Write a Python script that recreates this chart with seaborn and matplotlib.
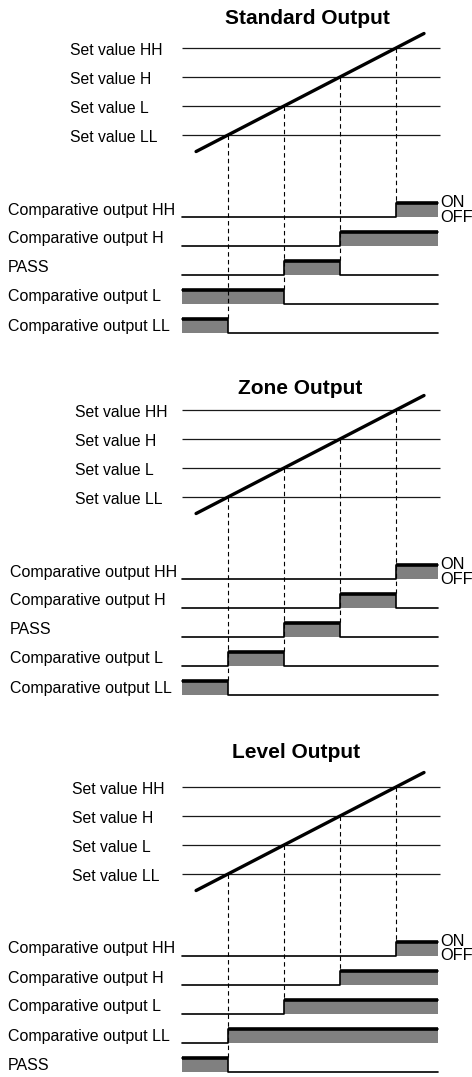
import pandas as pd
import matplotlib.pyplot as plt
import seaborn as sns

sns.set_theme(style="white")
plt.rcParams['font.family'] = ['Liberation Sans', 'DejaVu Sans']

# --- data ---
set_labels = ['Set value HH', 'Set value H', 'Set value L', 'Set value LL']
set_values = [4, 3, 2, 1]
ramp = [0.43, 4.5]      # measured value rising through the set values
span = [0.18, 4.75]     # time window drawn for the outputs

std_title = 'Standard Output'
std_rows = ['Comparative output HH', 'Comparative output H', 'PASS',
            'Comparative output L', 'Comparative output LL']
std_states = [[0, 0, 0, 0, 1],
              [0, 0, 0, 1, 1],
              [0, 0, 1, 0, 0],
              [1, 1, 0, 0, 0],
              [1, 0, 0, 0, 0]]

zone_title = 'Zone Output'
zone_rows = ['Comparative output HH', 'Comparative output H', 'PASS',
             'Comparative output L', 'Comparative output LL']
zone_states = [[0, 0, 0, 0, 1],
               [0, 0, 0, 1, 0],
               [0, 0, 1, 0, 0],
               [0, 1, 0, 0, 0],
               [1, 0, 0, 0, 0]]

level_title = 'Level Output'
level_rows = ['Comparative output HH', 'Comparative output H',
              'Comparative output L', 'Comparative output LL', 'PASS']
level_states = [[0, 0, 0, 0, 1],
                [0, 0, 0, 1, 1],
                [0, 0, 1, 1, 1],
                [0, 1, 1, 1, 1],
                [1, 0, 0, 0, 0]]

# --- layout (pixels) ---
W, H = 472, 1077
X0 = 172        # pixel x of value 0
UX = 56         # pixels per unit along x
UY = 29         # pixels per unit along y
ROW_GAP = 82    # from set value LL to first output row
ON_H = 14       # height of the ON level

panels = [
    dict(title=std_title, rows=std_rows, states=std_states, top=0, bottom=345,
         p_ll=135, title_xy=(307, 18), set_x=70, row_x=8),
    dict(title=zone_title, rows=zone_rows, states=zone_states, top=345, bottom=720,
         p_ll=497, title_xy=(300, 388), set_x=75, row_x=10),
    dict(title=level_title, rows=level_rows, states=level_states, top=720, bottom=H,
         p_ll=874, title_xy=(296, 752), set_x=72, row_x=8),
]

fig = plt.figure(figsize=(W / 100, H / 100), dpi=100)

for p in panels:
    ax = fig.add_axes([0, 1 - p['bottom'] / H, 1, (p['bottom'] - p['top']) / H])
    vx = lambda px: (px - X0) / UX
    vy = lambda py, p=p: 1 + (p['p_ll'] - py) / UY
    ax.set_xlim(vx(0), vx(W))
    ax.set_ylim(vy(p['bottom']), vy(p['top']))
    ax.axis('off')

    # title
    ax.text(vx(p['title_xy'][0]), vy(p['title_xy'][1]), p['title'],
            ha='center', va='center', fontsize=15, fontweight='bold', color='black')

    # set value lines and labels
    for lab, sv in zip(set_labels, set_values):
        ax.hlines(sv, span[0], span[1] + 0.03, color='#1a1a1a', lw=0.9)
        ax.text(vx(p['set_x']), sv - 7 / UY, lab, ha='left', va='baseline',
                fontsize=11.3, color='black')

    # rising input
    sns.lineplot(x=ramp, y=ramp, color='black', lw=2.4, ax=ax)

    # output waveforms
    edges = [span[0]] + sorted(set_values) + [span[1]]
    recs = []
    offs, ons = [], []
    for k, (name, st) in enumerate(zip(p['rows'], p['states'])):
        v_off = 1 - (ROW_GAP + UY * k) / UY
        v_on = v_off + ON_H / UY
        offs.append(v_off)
        ons.append(v_on)
        lev = [v_off + s * ON_H / UY for s in st]
        lev = lev + [lev[-1]]
        for x, y in zip(edges, lev):
            recs.append(dict(x=x, y=y, row=k))
        ax.fill_between(edges, v_off, lev, step='post', color='#808080', lw=0)
        for i, s in enumerate(st):
            if s:
                ax.hlines(v_on, edges[i], edges[i + 1], color='black', lw=2.6)
        ax.text(vx(p['row_x']), v_off + 2.5 / UY, name, ha='left', va='baseline',
                fontsize=11.5, color='black')
    df = pd.DataFrame(recs)
    sns.lineplot(data=df, x='x', y='y', units='row', estimator=None, sort=False,
                 drawstyle='steps-post', color='black', lw=1.2, legend=False, ax=ax)

    # dashed guides from each crossing down to the lowest output that switches
    for i, sv in enumerate(sorted(set_values)):
        changed = [k for k, st in enumerate(p['states']) if st[i] != st[i + 1]]
        low = max(changed)
        ax.plot([sv, sv], [sv, ons[low]], color='black', lw=0.8, dashes=(4, 3))

    ax.text(vx(440), ons[0] - 4 / UY, 'ON', ha='left', va='baseline',
            fontsize=11.8, color='black')
    ax.text(vx(440), offs[0] - 4.5 / UY, 'OFF', ha='left', va='baseline',
            fontsize=11.8, color='black')

fig.savefig('out.png', dpi=100, facecolor='white')
